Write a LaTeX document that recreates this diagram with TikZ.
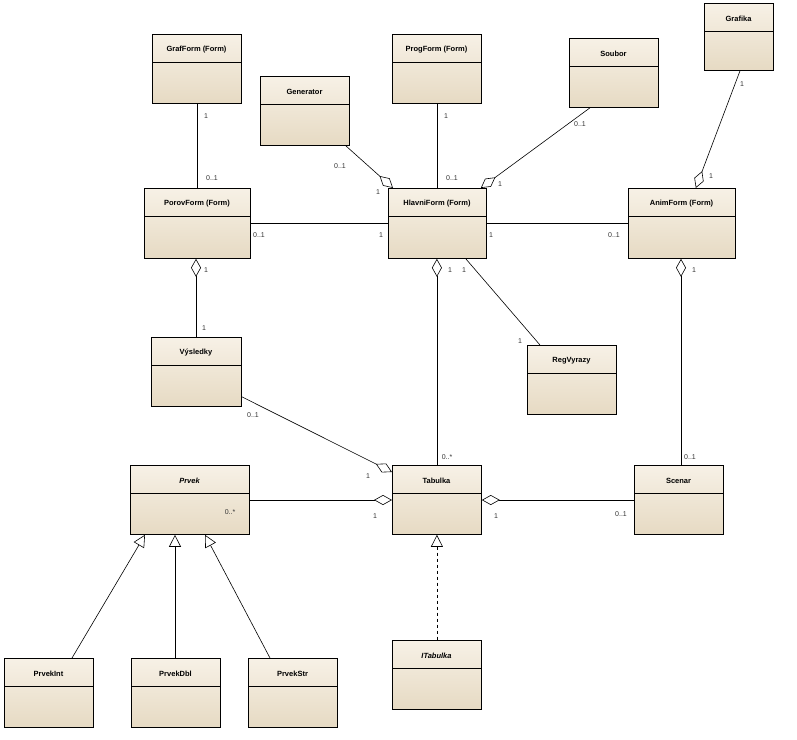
\documentclass[tikz,border=0pt]{standalone}
\usepackage{fontspec}
\setmainfont{Liberation Sans}
\usetikzlibrary{arrows.meta,calc}
\definecolor{boxtop}{HTML}{F7F1E6}
\definecolor{boxbot}{HTML}{E6DAC3}
\tikzset{
  umlbox/.style={draw=black, line width=0.8pt, top color=boxtop, bottom color=boxbot, anchor=north west, inner sep=0pt},
  ttl/.style={font=\fontsize{7.5}{8}\selectfont\bfseries},
  lbl/.style={font=\fontsize{7}{8}\selectfont, text=black!80},
  conn/.style={line width=0.6pt},
  agg/.style={conn, {Diamond[open, length=18pt, width=10pt]}-},
  gen/.style={conn, {Triangle[open, length=12pt, width=12pt]}-},
}
\newcommand{\umlb}[7]{%
  \node[umlbox, minimum width=#4pt-#2pt, minimum height=#5pt-#3pt] (#1) at (#2pt,-#3pt) {};
  \draw[line width=0.6pt] (#2pt,-#3pt-28pt) -- (#4pt,-#3pt-28pt);
  \node[ttl] at ({(#2+#4)/2*1pt},-#3pt-16pt) {#6#7};
}
\begin{document}
\begin{tikzpicture}[x=1pt,y=-1pt]
\fill[white] (0,0) rectangle (797,739);
\useasboundingbox (0,0) rectangle (797,739);
\umlb{graf}{152}{34}{241}{103}{}{GrafForm (Form)}
\umlb{prog}{392}{34}{481}{103}{}{ProgForm (Form)}
\umlb{soub}{569}{38}{658}{107}{}{Soubor}
\umlb{grafika}{704}{3}{773}{70}{}{Grafika}
\umlb{gener}{260}{76}{349}{145}{}{Generator}
\umlb{porov}{144}{188}{250}{258}{}{PorovForm (Form)}
\umlb{hlavni}{388}{188}{486}{258}{}{HlavniForm (Form)}
\umlb{anim}{628}{188}{735}{258}{}{AnimForm (Form)}
\umlb{vysl}{151}{337}{241}{406}{}{Výsledky}
\umlb{reg}{527}{345}{616}{414}{}{RegVyrazy}
\umlb{prvek}{130}{465}{249}{534}{\itshape}{Prvek}
\umlb{tab}{392}{465}{481}{534}{}{Tabulka}
\umlb{scen}{634}{465}{723}{534}{}{Scenar}
\umlb{itab}{392}{640}{481}{709}{\itshape}{ITabulka}
\umlb{pint}{4}{658}{93}{727}{}{PrvekInt}
\umlb{pdbl}{131}{658}{220}{727}{}{PrvekDbl}
\umlb{pstr}{248}{658}{337}{727}{}{PrvekStr}

% associations
\draw[conn] (graf.south) -- (graf.south |- porov.north);
\draw[conn] (prog.south) -- (prog.south |- hlavni.north);
\draw[agg] ([xshift=5]hlavni.north west) -- ([xshift=-4]gener.south east);
\draw[agg] ([xshift=-6]hlavni.north east) -- ([xshift=21]soub.south west);
\draw[agg] ([xshift=-40]anim.north east) -- ([xshift=36]grafika.south west);
\draw[conn] ([yshift=-35]porov.north east) -- ([yshift=-35]hlavni.north west);
\draw[conn] ([yshift=-35]hlavni.north east) -- ([yshift=-35]anim.north west);
\draw[agg] ([xshift=52]porov.south west) -- ([xshift=52]porov.south west |- vysl.north);
\draw[agg] (tab.north |- hlavni.south) -- (tab.north);
\draw[conn] ([xshift=-21]hlavni.south east) -- ([xshift=13]reg.north west);
\draw[agg] ([xshift=53]anim.south west) -- ([xshift=53]anim.south west |- scen.north);
\draw[agg] ([yshift=-7]tab.north west) -- ([yshift=10]vysl.south east);
\draw[agg] ([yshift=-35]tab.north west) -- ([yshift=-35]prvek.north east);
\draw[agg] ([yshift=-35]tab.north east) -- ([yshift=-35]scen.north west);
\draw[gen, dashed] (tab.south) -- (itab.north);
\draw[gen] ([xshift=15]prvek.south west) -- ([xshift=68]pint.north west);
\draw[gen] ([xshift=45]prvek.south west) -- ([xshift=44]pdbl.north west);
\draw[gen] ([xshift=75]prvek.south west) -- ([xshift=22]pstr.north west);

% labels
\node[lbl] (l1) at (206,116) {1};
\node[lbl] (l2) at (212,178) {0..1};
\node[lbl] (l3) at (446,116) {1};
\node[lbl] (l4) at (452,178) {0..1};
\node[lbl] (l5) at (340,166) {0..1};
\node[lbl] (l6) at (378,192) {1};
\node[lbl] (l7) at (580,124) {0..1};
\node[lbl] (l8) at (500,184) {1};
\node[lbl] (l9) at (742,84) {1};
\node[lbl] (l10) at (711,176) {1};
\node[lbl] (l11) at (259,235) {0..1};
\node[lbl] (l12) at (381,235) {1};
\node[lbl] (l13) at (491,235) {1};
\node[lbl] (l14) at (614,235) {0..1};
\node[lbl] (l15) at (206,270) {1};
\node[lbl] (l16) at (204,328) {1};
\node[lbl] (l17) at (450,270) {1};
\node[lbl] (l18) at (464,270) {1};
\node[lbl] (l19) at (447,457) {0..*};
\node[lbl] (l20) at (520,341) {1};
\node[lbl] (l21) at (694,270) {1};
\node[lbl] (l22) at (690,457) {0..1};
\node[lbl] (l23) at (253,415) {0..1};
\node[lbl] (l24) at (368,476) {1};
\node[lbl] (l25) at (230,512) {0..*};
\node[lbl] (l26) at (375,516) {1};
\node[lbl] (l27) at (496,516) {1};
\node[lbl] (l28) at (621,514) {0..1};
\end{tikzpicture}
\end{document}
